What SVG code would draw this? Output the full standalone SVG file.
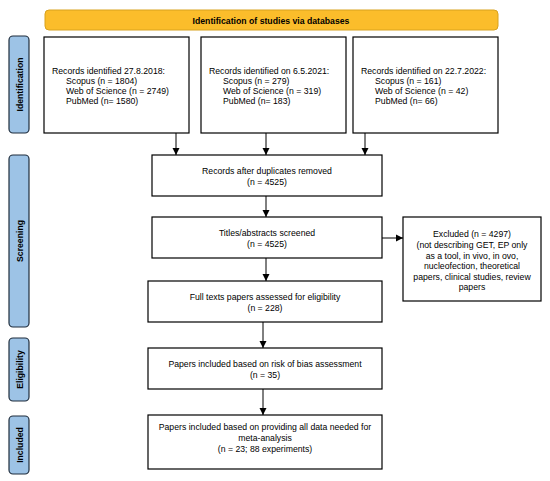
<svg xmlns="http://www.w3.org/2000/svg" width="550" height="481" viewBox="0 0 550 481">
<defs>
<style>
.box{fill:#fff;stroke:#000;stroke-width:1.2}
.side{fill:#9DC3E6;stroke:#1F2D3D;stroke-width:1.2}
.t{font-family:"Liberation Sans",Arial,sans-serif;font-size:8.7px;fill:#000}
.c{text-anchor:middle}
.b{font-weight:bold}
.con{stroke:#000;stroke-width:1;fill:none;marker-end:url(#ah)}
</style>
<marker id="ah" markerWidth="8" markerHeight="8" refX="7" refY="4" orient="auto" markerUnits="userSpaceOnUse">
<path d="M0,0.5 L7,4 L0,7.5 Z" fill="#000"/>
</marker>
</defs>
<rect width="550" height="481" fill="#fff"/>

<g id="header">
<rect x="45" y="10" width="453" height="20" rx="4" fill="#FBBD2B" stroke="#D8A21E" stroke-width="1"/>
<text class="t c b" x="271" y="23.5">Identification of studies via databases</text>
</g>

<g id="side-identification">
<rect class="side" x="9" y="36" width="20" height="97" rx="4"/>
<text class="t c b" transform="translate(22.5,84.5) rotate(-90)">Identification</text>
</g>
<g id="side-screening">
<rect class="side" x="9" y="155" width="20" height="172" rx="4"/>
<text class="t c b" transform="translate(22.5,241) rotate(-90)">Screening</text>
</g>
<g id="side-eligibility">
<rect class="side" x="9" y="338" width="20" height="63" rx="4"/>
<text class="t c b" transform="translate(22.5,369.5) rotate(-90)">Eligibility</text>
</g>
<g id="side-included">
<rect class="side" x="9" y="416" width="20" height="58" rx="4"/>
<text class="t c b" transform="translate(22.5,445) rotate(-90)">Included</text>
</g>

<g id="rec2018">
<rect class="box" x="44" y="37" width="145" height="96"/>
<text class="t" x="52" y="74">Records identified 27.8.2018:</text>
<text class="t" x="66" y="84">Scopus (n = 1804)</text>
<text class="t" x="66" y="94">Web of Science (n = 2749)</text>
<text class="t" x="66" y="104">PubMed (n= 1580)</text>
</g>
<g id="rec2021">
<rect class="box" x="201" y="37" width="145" height="96"/>
<text class="t" x="209" y="74">Records identified on 6.5.2021:</text>
<text class="t" x="223" y="84">Scopus (n = 279)</text>
<text class="t" x="223" y="94">Web of Science (n = 319)</text>
<text class="t" x="223" y="104">PubMed (n= 183)</text>
</g>
<g id="rec2022">
<rect class="box" x="353" y="37" width="145" height="96"/>
<text class="t" x="361" y="74">Records identified on 22.7.2022:</text>
<text class="t" x="375" y="84">Scopus (n = 161)</text>
<text class="t" x="375" y="94">Web of Science (n = 42)</text>
<text class="t" x="375" y="104">PubMed (n= 66)</text>
</g>

<g id="dedup">
<rect class="box" x="152" y="155" width="230" height="41"/>
<text class="t c" x="267" y="174">Records after duplicates removed</text>
<text class="t c" x="267" y="185">(n = 4525)</text>
</g>
<g id="screened">
<rect class="box" x="152" y="217" width="230" height="41"/>
<text class="t c" x="267" y="236">Titles/abstracts screened</text>
<text class="t c" x="267" y="247">(n = 4525)</text>
</g>
<g id="excluded">
<rect class="box" x="403" y="217" width="138" height="84"/>
<text class="t c" x="472" y="237">Excluded (n = 4297)</text>
<text class="t c" x="472" y="248">(not describing GET, EP only</text>
<text class="t c" x="472" y="259">as a tool, in vivo, in ovo,</text>
<text class="t c" x="472" y="269">nucleofection, theoretical</text>
<text class="t c" x="472" y="280">papers, clinical studies, review</text>
<text class="t c" x="472" y="290">papers</text>
</g>
<g id="fulltext">
<rect class="box" x="148" y="281" width="234" height="41"/>
<text class="t c" x="265" y="300">Full texts papers assessed for eligibility</text>
<text class="t c" x="265" y="311">(n = 228)</text>
</g>
<g id="bias">
<rect class="box" x="148" y="348" width="234" height="41"/>
<text class="t c" x="265" y="367">Papers included based on risk of bias assessment</text>
<text class="t c" x="265" y="378">(n = 35)</text>
</g>
<g id="included">
<rect class="box" x="148" y="415" width="234" height="54"/>
<text class="t c" x="265" y="430">Papers included based on providing all data needed for</text>
<text class="t c" x="265" y="441">meta-analysis</text>
<text class="t c" x="265" y="452">(n = 23; 88 experiments)</text>
</g>

<g id="connectors">
<line class="con" x1="176" y1="133" x2="176" y2="155"/>
<line class="con" x1="266" y1="133" x2="266" y2="155"/>
<line class="con" x1="365" y1="133" x2="365" y2="155"/>
<line class="con" x1="266" y1="196" x2="266" y2="217"/>
<line class="con" x1="266" y1="258" x2="266" y2="281"/>
<line class="con" x1="382" y1="238" x2="403" y2="238"/>
<line class="con" x1="263" y1="322" x2="263" y2="348"/>
<line class="con" x1="263" y1="389" x2="263" y2="415"/>
</g>
</svg>
